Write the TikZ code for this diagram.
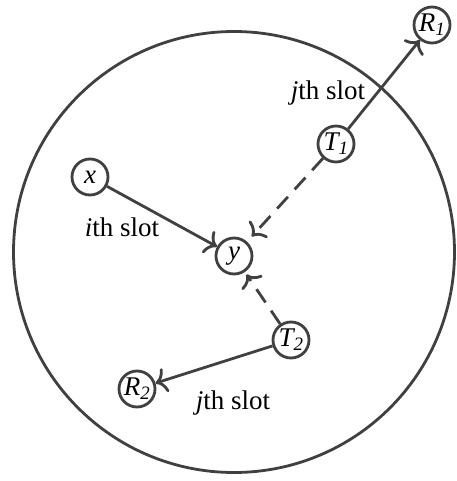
\documentclass[tikz,border=0pt]{standalone}
\usepackage{fontspec}
\setmainfont{Liberation Serif}
\usetikzlibrary{arrows.meta}
\definecolor{ink}{HTML}{404040}
\tikzset{
  nd/.style={circle,draw=ink,line width=2.8pt,minimum size=36pt,inner sep=0pt,font=\fontsize{27}{29}\selectfont\itshape},
  lbl/.style={font=\fontsize{27}{29}\selectfont,inner sep=0pt},
  arr/.style={draw=ink,line width=2.8pt,-{To[length=11pt,width=25pt]}},
  darr/.style={arr,dash pattern=on 16pt off 10pt}
}
\begin{document}
\begin{tikzpicture}[x=1pt,y=-1pt]
\useasboundingbox (0,0) rectangle (456,481);
\node[circle,draw=ink,line width=2.8pt,minimum size=441pt,inner sep=0pt] (big) at (234,252) {};
\node[nd] (R1) at (432,25) {R\textsubscript{1}};
\node[nd] (T1) at (336,144) {T\textsubscript{1}};
\node[nd] (x) at (90,177) {x};
\node[nd] (y) at (234,256) {y};
\node[nd] (T2) at (291,340) {T\textsubscript{2}};
\node[nd] (R2) at (137,389) {R\textsubscript{2}};
\node[lbl] (l1) at (328,93) {\textit{j}th slot};
\node[lbl] (l2) at (122,227) {\textit{i}th slot};
\node[lbl] (l3) at (233,403) {\textit{j}th slot};
\draw[arr] (T1) -- (R1);
\draw[arr] (x) -- (y);
\draw[darr,shorten >=7pt] (T1) -- (y);
\draw[darr,shorten >=3pt] (T2) -- (y);
\draw[arr] (T2) -- (R2);
\end{tikzpicture}
\end{document}
